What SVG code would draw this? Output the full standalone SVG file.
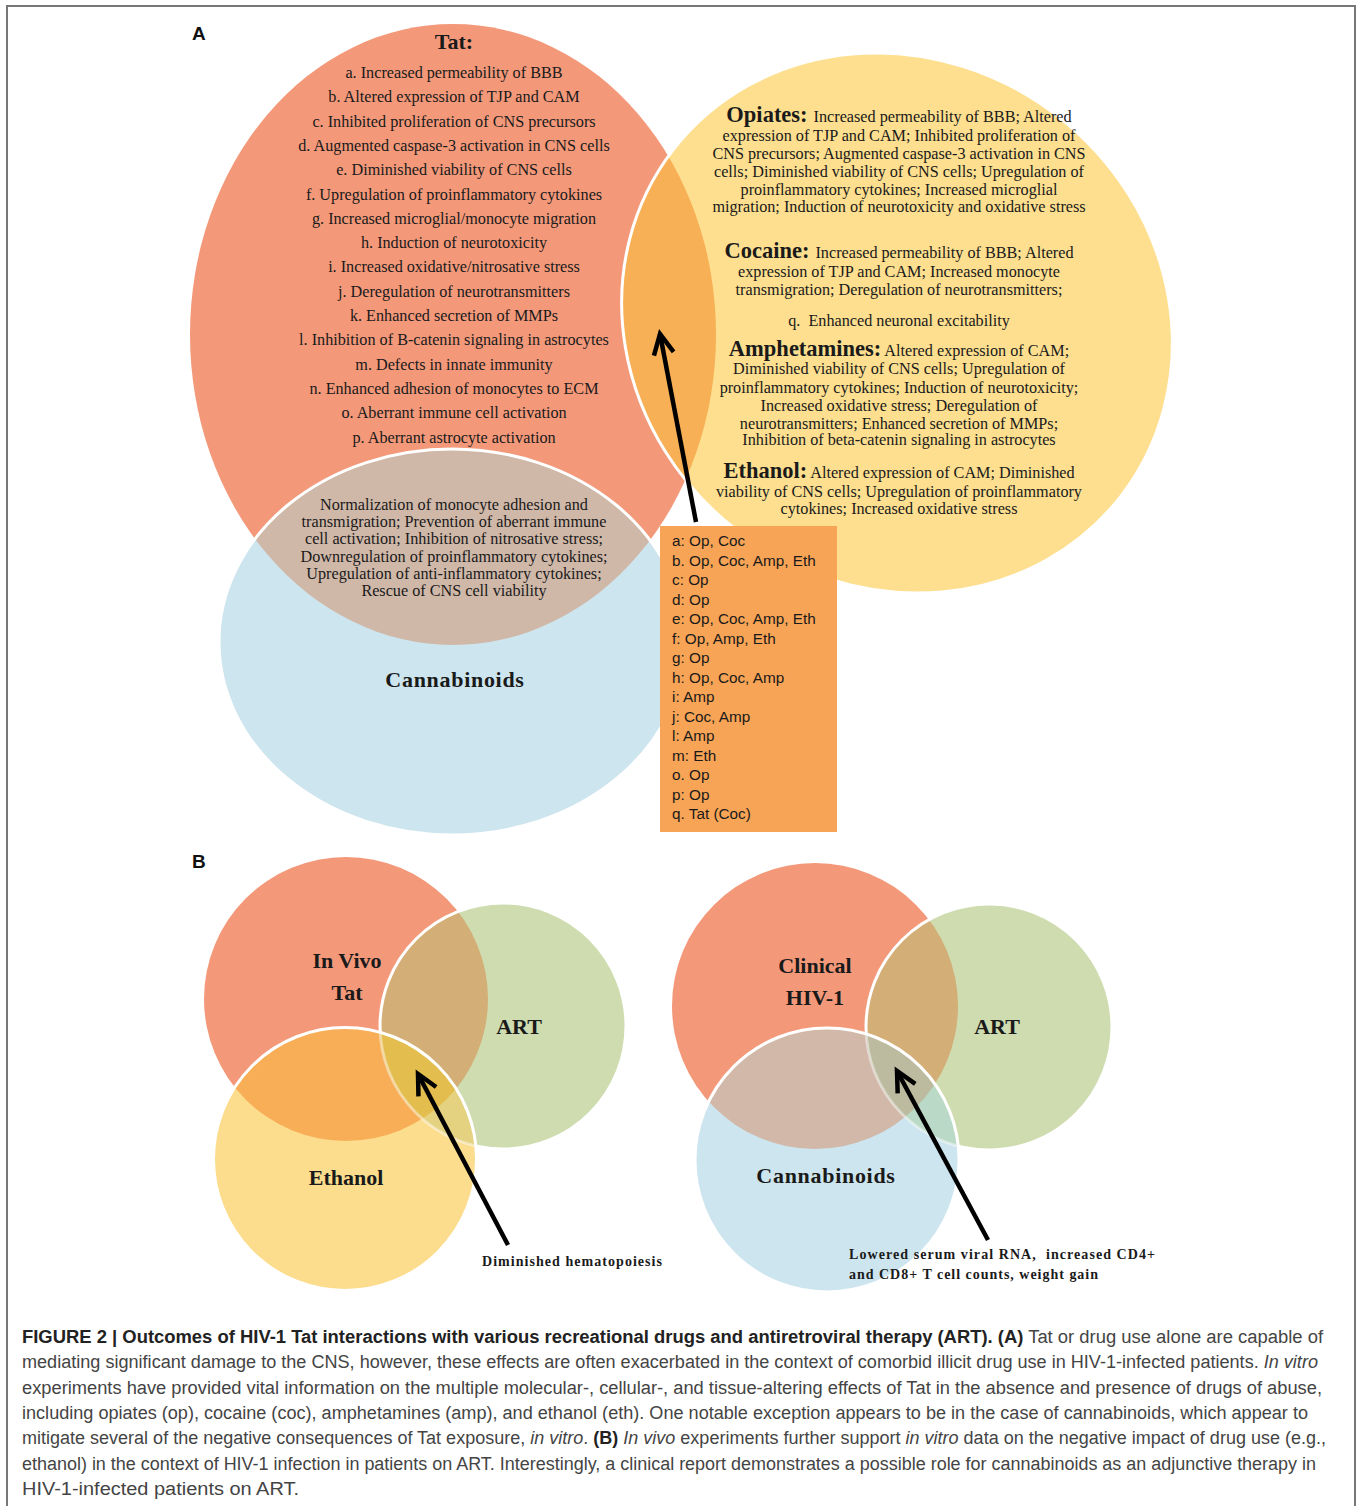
<svg xmlns="http://www.w3.org/2000/svg" width="1357" height="1506" viewBox="0 0 1357 1506">
<style>
.frame{stroke:#777;stroke-width:2;fill:none}
.lbl{font-family:"Liberation Sans",Arial,sans-serif;font-weight:bold;font-size:19px;fill:#111}
.tt{font-family:"Liberation Serif","Times New Roman",serif;fill:#1a1a1a;text-anchor:middle}
.li{font-size:16.2px}
.yl{font-size:16.2px}
.hd{font-weight:bold;font-size:22.5px}
.big{font-weight:bold;font-size:22px}
.box{font-family:"Liberation Sans",Arial,sans-serif;font-size:15.3px;fill:#1a1a1a}
.small{font-weight:bold;font-size:14px;text-anchor:start}
.cap{font-family:"Liberation Sans",Arial,sans-serif;font-size:18px;fill:#444}
.capb{font-weight:bold;fill:#222}
.it{font-style:italic}
.arrow{stroke:#000;stroke-width:4.5;fill:none}
.wst{fill:none;stroke:#fff;stroke-width:3}
</style>
<defs>
<marker id="chev" markerUnits="userSpaceOnUse" markerWidth="40" markerHeight="40" viewBox="-30 -20 40 40" refX="0" refY="0" orient="auto">
<path d="M -20 -10 L 0 0 L -20 10" fill="none" stroke="#000" stroke-width="4.5" stroke-linejoin="miter"/>
</marker>
<clipPath id="cYel"><ellipse cx="897" cy="323" rx="283" ry="262" transform="rotate(37.7 897 323)"/></clipPath>
<clipPath id="cCanA"><ellipse cx="452" cy="642" rx="233" ry="193"/></clipPath>
<clipPath id="cArtL"><circle cx="503" cy="1026" r="123"/></clipPath>
<clipPath id="cEthL"><circle cx="345" cy="1159" r="131.5"/></clipPath>
<clipPath id="cTatL"><circle cx="346" cy="999" r="142"/></clipPath>
<clipPath id="cArtR"><circle cx="989" cy="1027" r="123"/></clipPath>
<clipPath id="cCanR"><circle cx="827" cy="1160" r="132"/></clipPath>
<clipPath id="cHivR"><circle cx="815" cy="1006" r="143"/></clipPath>
</defs>

<g id="frame">
<path class="frame" d="M7 1506 V6 H1355 V1506"/>
</g>

<text class="lbl" x="192" y="40">A</text>
<text class="lbl" x="192" y="868">B</text>

<!-- Panel A -->
<g id="tat">
<ellipse cx="453" cy="334.5" rx="263" ry="310.5" fill="#F3997A"/>
</g>
<g id="opiates-etc">
<ellipse cx="897" cy="323" rx="283" ry="262" transform="rotate(37.7 897 323)" fill="#FDDF8F"/>
<g clip-path="url(#cYel)"><ellipse cx="453" cy="334.5" rx="263" ry="310.5" fill="#F7B055"/></g>
<ellipse class="wst" cx="897" cy="323" rx="283" ry="262" transform="rotate(37.7 897 323)"/>
</g>
<g id="cannabinoids-a">
<ellipse cx="452" cy="642" rx="233" ry="193" fill="#CDE5EE"/>
<g clip-path="url(#cCanA)"><ellipse cx="453" cy="334.5" rx="263" ry="310.5" fill="#D0B8A9"/></g>
<ellipse class="wst" cx="452" cy="642" rx="233" ry="193"/>
</g>

<g id="tat-text" class="tt">
<text class="big" x="454" y="49" font-size="21">Tat:</text>
<text class="li" x="454" y="78">a. Increased permeability of BBB</text>
<text class="li" x="454" y="102.3">b. Altered expression of TJP and CAM</text>
<text class="li" x="454" y="126.6">c. Inhibited proliferation of CNS precursors</text>
<text class="li" x="454" y="150.9">d. Augmented caspase-3 activation in CNS cells</text>
<text class="li" x="454" y="175.2">e. Diminished viability of CNS cells</text>
<text class="li" x="454" y="199.5">f. Upregulation of proinflammatory cytokines</text>
<text class="li" x="454" y="223.8">g. Increased microglial/monocyte migration</text>
<text class="li" x="454" y="248.1">h. Induction of neurotoxicity</text>
<text class="li" x="454" y="272.4">i. Increased oxidative/nitrosative stress</text>
<text class="li" x="454" y="296.7">j. Deregulation of neurotransmitters</text>
<text class="li" x="454" y="321">k. Enhanced secretion of MMPs</text>
<text class="li" x="454" y="345.3">l. Inhibition of B-catenin signaling in astrocytes</text>
<text class="li" x="454" y="369.6">m. Defects in innate immunity</text>
<text class="li" x="454" y="393.9">n. Enhanced adhesion of monocytes to ECM</text>
<text class="li" x="454" y="418.2">o. Aberrant immune cell activation</text>
<text class="li" x="454" y="442.5">p. Aberrant astrocyte activation</text>
</g>

<g id="drug-text" class="tt">
<text class="yl" x="899" y="122"><tspan class="hd">Opiates:</tspan><tspan dx="6">Increased permeability of BBB; Altered</tspan></text>
<text class="yl" x="899" y="141">expression of TJP and CAM; Inhibited proliferation of</text>
<text class="yl" x="899" y="159">CNS precursors; Augmented caspase-3 activation in CNS</text>
<text class="yl" x="899" y="177">cells; Diminished viability of CNS cells; Upregulation of</text>
<text class="yl" x="899" y="195">proinflammatory cytokines; Increased microglial</text>
<text class="yl" x="899" y="212">migration; Induction of neurotoxicity and oxidative stress</text>
<text class="yl" x="899" y="258"><tspan class="hd">Cocaine:</tspan><tspan dx="6">Increased permeability of BBB; Altered</tspan></text>
<text class="yl" x="899" y="277">expression of TJP and CAM; Increased monocyte</text>
<text class="yl" x="899" y="295">transmigration; Deregulation of neurotransmitters;</text>
<text class="yl" x="899" y="326" xml:space="preserve">q.  Enhanced neuronal excitability</text>
<text class="yl" x="899" y="356"><tspan class="hd">Amphetamines:</tspan><tspan dx="3">Altered expression of CAM;</tspan></text>
<text class="yl" x="899" y="374">Diminished viability of CNS cells; Upregulation of</text>
<text class="yl" x="899" y="393">proinflammatory cytokines; Induction of neurotoxicity;</text>
<text class="yl" x="899" y="411">Increased oxidative stress; Deregulation of</text>
<text class="yl" x="899" y="429">neurotransmitters; Enhanced secretion of MMPs;</text>
<text class="yl" x="899" y="445">Inhibition of beta-catenin signaling in astrocytes</text>
<text class="yl" x="899" y="478"><tspan class="hd">Ethanol:</tspan><tspan dx="3">Altered expression of CAM; Diminished</tspan></text>
<text class="yl" x="899" y="497">viability of CNS cells; Upregulation of proinflammatory</text>
<text class="yl" x="899" y="514">cytokines; Increased oxidative stress</text>
</g>

<g id="cannabinoid-text" class="tt">
<text class="yl" x="454" y="510">Normalization of monocyte adhesion and</text>
<text class="yl" x="454" y="527">transmigration; Prevention of aberrant immune</text>
<text class="yl" x="454" y="544">cell activation; Inhibition of nitrosative stress;</text>
<text class="yl" x="454" y="562">Downregulation of proinflammatory cytokines;</text>
<text class="yl" x="454" y="579">Upregulation of anti-inflammatory cytokines;</text>
<text class="yl" x="454" y="596">Rescue of CNS cell viability</text>
<text class="big" x="455" y="687" font-size="20.5" letter-spacing="0.7">Cannabinoids</text>
</g>

<g id="legend-box">
<rect x="660" y="526" width="177" height="306" fill="#F8A456"/>
<g class="box">
<text x="672" y="546">a: Op, Coc</text>
<text x="672" y="566">b. Op, Coc, Amp, Eth</text>
<text x="672" y="585">c: Op</text>
<text x="672" y="605">d: Op</text>
<text x="672" y="624">e: Op, Coc, Amp, Eth</text>
<text x="672" y="644">f: Op, Amp, Eth</text>
<text x="672" y="663">g: Op</text>
<text x="672" y="683">h: Op, Coc, Amp</text>
<text x="672" y="702">i: Amp</text>
<text x="672" y="722">j: Coc, Amp</text>
<text x="672" y="741">l: Amp</text>
<text x="672" y="761">m: Eth</text>
<text x="672" y="780">o. Op</text>
<text x="672" y="800">p: Op</text>
<text x="672" y="819">q. Tat (Coc)</text>
</g>
</g>

<!-- Panel B left -->
<g id="invivo-tat">
<circle cx="346" cy="999" r="142" fill="#F3997A"/>
</g>
<g id="art-left">
<circle cx="503" cy="1026" r="123" fill="#CEDCB0"/>
<g clip-path="url(#cArtL)"><circle cx="346" cy="999" r="142" fill="#D4AE77"/></g>
<circle class="wst" cx="503" cy="1026" r="123"/>
</g>
<g id="ethanol-b">
<circle cx="345" cy="1159" r="131.5" fill="#FCDD8E"/>
<g clip-path="url(#cEthL)">
<circle cx="346" cy="999" r="142" fill="#F7AE57"/>
<circle cx="503" cy="1026" r="123" fill="#E5D281"/>
<g clip-path="url(#cTatL)"><circle cx="503" cy="1026" r="123" fill="#E3BD4E"/></g>
<circle cx="503" cy="1026" r="123" fill="none" stroke="#fff" stroke-opacity="0.45" stroke-width="3"/>
</g>
<circle class="wst" cx="345" cy="1159" r="131.5"/>
</g>

<!-- Panel B right -->
<g id="clinical-hiv">
<circle cx="815" cy="1006" r="143" fill="#F3997A"/>
</g>
<g id="art-right">
<circle cx="989" cy="1027" r="123" fill="#CEDCB0"/>
<g clip-path="url(#cArtR)"><circle cx="815" cy="1006" r="143" fill="#D4AE77"/></g>
<circle class="wst" cx="989" cy="1027" r="123"/>
</g>
<g id="cannabinoids-b">
<circle cx="827" cy="1160" r="132" fill="#CDE5EE"/>
<g clip-path="url(#cCanR)">
<circle cx="815" cy="1006" r="143" fill="#D1B8A9"/>
<circle cx="989" cy="1027" r="123" fill="#BAD9C6"/>
<g clip-path="url(#cHivR)"><circle cx="989" cy="1027" r="123" fill="#BDBB9F"/></g>
<circle cx="989" cy="1027" r="123" fill="none" stroke="#fff" stroke-opacity="0.45" stroke-width="3"/>
</g>
<circle class="wst" cx="827" cy="1160" r="132"/>
</g>

<g id="b-labels" class="tt">
<text class="big" x="347" y="968">In Vivo</text>
<text class="big" x="347" y="1000">Tat</text>
<text class="big" x="519" y="1034">ART</text>
<text class="big" x="346" y="1185">Ethanol</text>
<text class="big" x="815" y="973">Clinical</text>
<text class="big" x="815" y="1005">HIV-1</text>
<text class="big" x="997" y="1034">ART</text>
<text class="big" x="826" y="1183" letter-spacing="0.7">Cannabinoids</text>
<text class="small" x="482" y="1266" textLength="180" lengthAdjust="spacing">Diminished hematopoiesis</text>
<text class="small" x="849" y="1259" textLength="306" lengthAdjust="spacing" xml:space="preserve">Lowered serum viral RNA,  increased CD4+</text>
<text class="small" x="849" y="1279" textLength="249" lengthAdjust="spacing">and CD8+ T cell counts, weight gain</text>
</g>

<g id="connectors">
<path class="arrow" d="M696 522 L660 334" marker-end="url(#chev)"/>
<path class="arrow" d="M508 1245 L418 1074" marker-end="url(#chev)"/>
<path class="arrow" d="M988 1240 L897 1071" marker-end="url(#chev)"/>
</g>

<g id="caption" class="cap">
<text x="22" y="1343" textLength="1301" lengthAdjust="spacingAndGlyphs"><tspan class="capb">FIGURE 2 | Outcomes of HIV-1 Tat interactions with various recreational drugs and antiretroviral therapy (ART). (A)</tspan> Tat or drug use alone are capable of</text>
<text x="22" y="1368" textLength="1296" lengthAdjust="spacingAndGlyphs">mediating significant damage to the CNS, however, these effects are often exacerbated in the context of comorbid illicit drug use in HIV-1-infected patients. <tspan class="it">In vitro</tspan></text>
<text x="22" y="1394" textLength="1300" lengthAdjust="spacingAndGlyphs">experiments have provided vital information on the multiple molecular-, cellular-, and tissue-altering effects of Tat in the absence and presence of drugs of abuse,</text>
<text x="22" y="1419" textLength="1286" lengthAdjust="spacingAndGlyphs">including opiates (op), cocaine (coc), amphetamines (amp), and ethanol (eth). One notable exception appears to be in the case of cannabinoids, which appear to</text>
<text x="22" y="1444" textLength="1304" lengthAdjust="spacingAndGlyphs">mitigate several of the negative consequences of Tat exposure, <tspan class="it">in vitro</tspan>. <tspan class="capb">(B)</tspan> <tspan class="it">In vivo</tspan> experiments further support <tspan class="it">in vitro</tspan> data on the negative impact of drug use (e.g.,</text>
<text x="22" y="1470" textLength="1294" lengthAdjust="spacingAndGlyphs">ethanol) in the context of HIV-1 infection in patients on ART. Interestingly, a clinical report demonstrates a possible role for cannabinoids as an adjunctive therapy in</text>
<text x="22" y="1495" textLength="277" lengthAdjust="spacingAndGlyphs">HIV-1-infected patients on ART.</text>
</g>
</svg>
